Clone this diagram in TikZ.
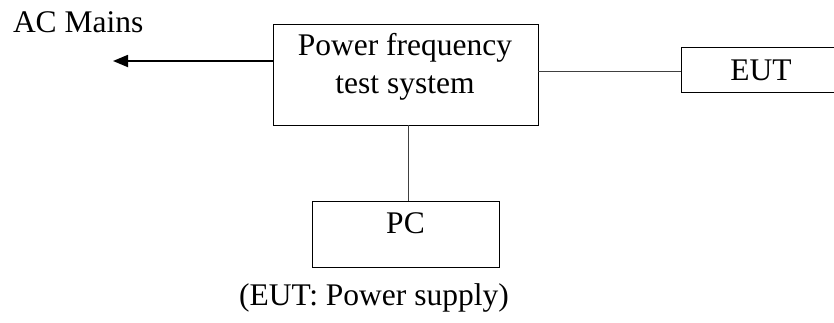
\documentclass[tikz,border=0pt]{standalone}
\usepackage{fontspec}
\setmainfont{Liberation Serif}
\usetikzlibrary{arrows.meta}
\begin{document}
\begin{tikzpicture}[x=1pt,y=-1pt,
  every node/.style={font=\fontsize{31.5}{37.8}\selectfont, inner sep=0pt, outer sep=0pt},
  frame/.style={draw=black, line width=1pt, rectangle},
  lbl/.style={anchor=base},
  wire/.style={draw=black!75, line width=1pt},
  arr/.style={draw=black, line width=1.8pt, -{Triangle[length=15pt,width=12pt]}}]
\useasboundingbox[fill=white] (0,0) rectangle (834,322);
% boxes
\node[frame, minimum width=265pt, minimum height=101pt] (pfs) at (405.5,74.5) {};
\node[frame, minimum width=155pt, minimum height=45pt] (eut) at (758.5,69.5) {};
\node[frame, minimum width=187pt, minimum height=66pt] (pc) at (405.5,234) {};
% texts
\node[lbl] (pfs1) at (405,55) {Power frequency};
\node[lbl] (pfs2) at (405,93) {test system};
\node[lbl] (eutt) at (761,80) {EUT};
\node[lbl] (pct) at (405.5,233) {PC};
\node[lbl, anchor=base west] (ac) at (13,32) {AC Mains};
\node[lbl] (cap) at (374,305) {(EUT: Power supply)};
% connectors
\coordinate (acend) at (113,61);
\draw[arr] (pfs.west |- acend) -- (acend);
\draw[wire] (pfs.east |- 0,71) -- (eut.west |- 0,71);
\draw[wire] (pfs.south -| 408,0) -- (pc.north -| 408,0);
\end{tikzpicture}
\end{document}
